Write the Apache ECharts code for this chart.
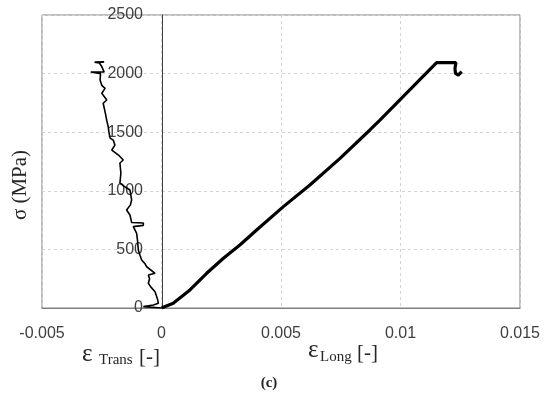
<!DOCTYPE html>
<html>
<head>
<meta charset="utf-8">
<script src="https://cdn.jsdelivr.net/npm/echarts@6/dist/echarts.min.js"></script>
<style>
html,body{margin:0;padding:0;background:#fff;}
#chart{width:550px;height:396px;}
</style>
</head>
<body>
<div id="chart"></div>
<script>
// Transverse strain curve (strain, stress MPa)
var transStrain = [0, -0.00076, -0.00034, -0.00013, -0.00016, -0.0002, -0.00027, -0.00045, -0.00055, -0.0005, -0.00055, -0.00027, -0.00062, -0.0007, -0.00083, -0.0009, -0.00097, -0.001, -0.00104, -0.00118, -0.00076, -0.00076, -0.00125, -0.00132, -0.00146, -0.0013, -0.00125, -0.00132, -0.0015, -0.00174, -0.0017, -0.00174, -0.0016, -0.0018, -0.00208, -0.00195, -0.00202, -0.00215, -0.0022, -0.00223, -0.00229, -0.00235, -0.00244, -0.00229, -0.0025, -0.00236, -0.0025, -0.00257, -0.00255, -0.00296, -0.0024, -0.0025, -0.0026, -0.0028, -0.0024, -0.0026];
var transStress = [0, 12, 26, 40, 70, 96, 139, 180, 211, 250, 282, 296, 352, 380, 410, 450, 495, 570, 637, 694, 705, 725, 730, 794, 836, 880, 922, 1007, 1030, 1066, 1150, 1237, 1263, 1305, 1348, 1390, 1433, 1450, 1500, 1547, 1600, 1663, 1747, 1775, 1832, 1874, 1900, 1946, 2000, 2014, 2014, 2060, 2090, 2098, 2100, 2095];
// Longitudinal strain curve
var longStrain = [0, 0.00049, 0.00119, 0.00189, 0.00259, 0.00328, 0.00398, 0.0051, 0.00621, 0.00747, 0.00872, 0.00914, 0.01151, 0.01232, 0.01228, 0.0123, 0.01242, 0.01256];
var longStress = [0, 40, 154, 296, 424, 538, 666, 865, 1050, 1277, 1519, 1604, 2093, 2093, 2045, 2002, 1988, 2016];
// Axis ticks
var xTicks = [-0.005, 0, 0.005, 0.01, 0.015];
var yTicks = [0, 500, 1000, 1500, 2000, 2500];

function pairs(xs, ys) { return xs.map(function (x, i) { return [x, ys[i]]; }); }

var chart = echarts.init(document.getElementById('chart'), null, {renderer: 'canvas'});
var labelFont = {fontFamily: 'Liberation Sans', fontSize: 16, color: '#404040'};
var serif = 'Liberation Serif';

chart.setOption({
  animation: false,
  backgroundColor: '#ffffff',
  grid: {left: 42, top: 15, width: 478, height: 293, show: true, borderColor: '#7f7f7f', borderWidth: 1, containLabel: false, outerBoundsMode: 'none'},
  xAxis: {
    type: 'value', min: xTicks[0], max: xTicks[xTicks.length - 1], interval: 0.005,
    axisLine: {show: true, onZero: false, lineStyle: {color: '#7f7f7f', width: 1}},
    axisTick: {show: false},
    axisLabel: Object.assign({margin: 18, formatter: function (v) { return String(parseFloat(v.toFixed(3))); }}, labelFont),
    splitLine: {show: true, lineStyle: {color: '#d4d4d4', type: [3, 3], width: 1}}
  },
  yAxis: {
    type: 'value', min: yTicks[0], max: yTicks[yTicks.length - 1], interval: 500,
    offset: -120,
    axisLine: {show: true, onZero: false, lineStyle: {color: '#404040', width: 1}},
    axisTick: {show: false},
    axisLabel: Object.assign({margin: 19, formatter: function (v) { return String(v); }}, labelFont),
    splitLine: {show: true, lineStyle: {color: '#d4d4d4', type: [3, 3], width: 1}}
  },
  series: [
    {type: 'line', data: pairs(transStrain, transStress), showSymbol: false, lineStyle: {color: '#000', width: 1.6}, z: 3},
    {type: 'line', data: pairs(longStrain, longStress), showSymbol: false, lineStyle: {color: '#000', width: 3.2}, z: 3}
  ],
  graphic: [
    {type: 'text', x: 20, y: 185, rotation: Math.PI / 2, style: {text: 'σ (MPa)', font: '21px ' + serif, fill: '#262626', textAlign: 'center', textVerticalAlign: 'middle'}},
    {type: 'text', x: 82, y: 354, style: {text: 'ε', font: '25px ' + serif, fill: '#262626', textAlign: 'left', textVerticalAlign: 'middle'}},
    {type: 'text', x: 99, y: 360, style: {text: 'Trans', font: '15px ' + serif, fill: '#262626', textAlign: 'left', textVerticalAlign: 'middle'}},
    {type: 'text', x: 139, y: 357, style: {text: '[-]', font: '21px ' + serif, fill: '#262626', textAlign: 'left', textVerticalAlign: 'middle'}},
    {type: 'text', x: 308, y: 350, style: {text: 'ε', font: '25px ' + serif, fill: '#262626', textAlign: 'left', textVerticalAlign: 'middle'}},
    {type: 'text', x: 320, y: 357, style: {text: 'Long', font: '15px ' + serif, fill: '#262626', textAlign: 'left', textVerticalAlign: 'middle'}},
    {type: 'text', x: 357, y: 353, style: {text: '[-]', font: '21px ' + serif, fill: '#262626', textAlign: 'left', textVerticalAlign: 'middle'}},
    {type: 'text', x: 269, y: 383, style: {text: '(c)', font: 'bold 15px ' + serif, fill: '#262626', textAlign: 'center', textVerticalAlign: 'middle'}}
  ]
});
</script>
</body>
</html>
